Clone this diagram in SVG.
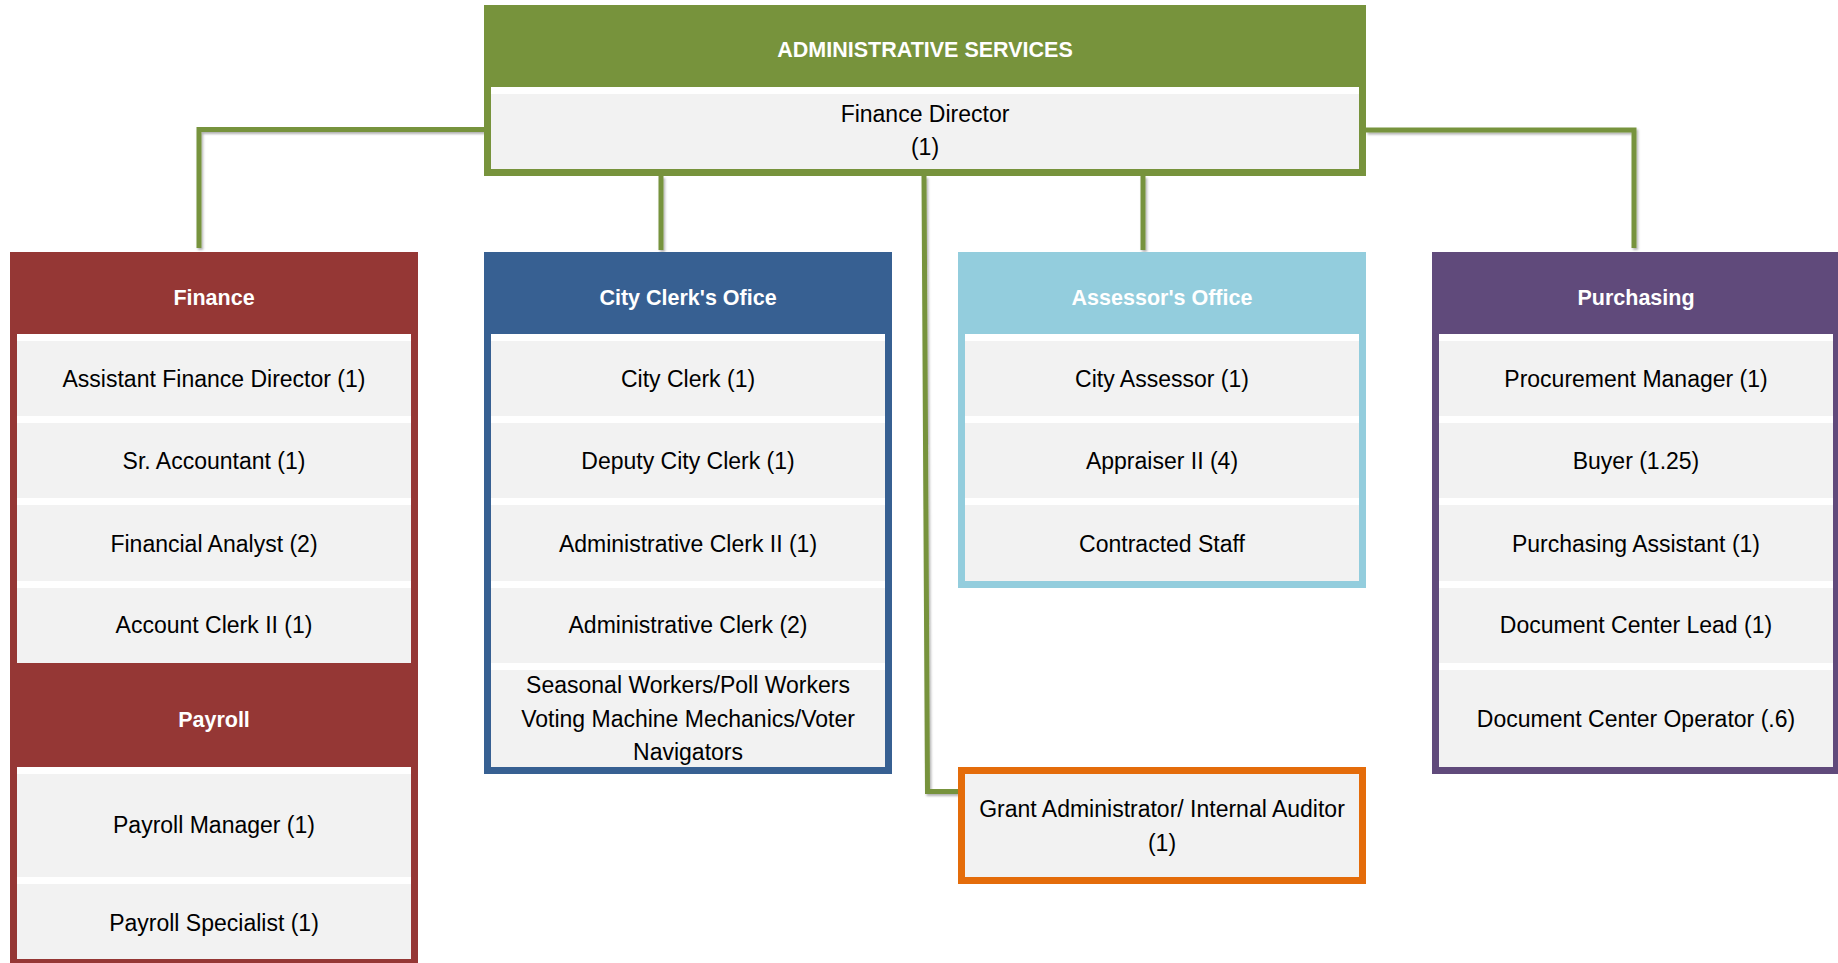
<svg xmlns="http://www.w3.org/2000/svg" width="1838" height="963" viewBox="0 0 1838 963">
<style>
  .row { fill: #F2F2F2; }
  .gap { fill: #FFFFFF; }
  .t { font-family: "Liberation Sans", Arial, sans-serif; font-size: 23px; fill: #000000; text-anchor: middle; }
  .h { font-family: "Liberation Sans", Arial, sans-serif; font-size: 21.5px; font-weight: bold; fill: #FFFFFF; text-anchor: middle; }
  .conn { fill: none; stroke: #77933C; stroke-width: 5; stroke-linejoin: miter; stroke-linecap: butt; filter: url(#sh); }
</style>
<defs>
  <filter id="sh" filterUnits="userSpaceOnUse" x="0" y="0" width="1838" height="963">
    <feDropShadow dx="1.5" dy="2" stdDeviation="1.2" flood-color="#000000" flood-opacity="0.3"/>
  </filter>
</defs>
<rect x="0" y="0" width="1838" height="963" fill="#FFFFFF"/>

<g id="connectors">
  <path class="conn" d="M484,129.5 H199 V248"/>
  <path class="conn" d="M661,176 V250"/>
  <path class="conn" d="M924,176 L927.5,791.5 H958"/>
  <path class="conn" d="M1143,176 V250"/>
  <path class="conn" d="M1366,130 H1634 V248"/>
</g>

<g id="admin-services">
  <rect x="484" y="5" width="882" height="171" fill="#77933C"/>
  <rect class="gap" x="491" y="87" width="868" height="82"/>
  <rect class="row" x="491" y="94" width="868" height="75"/>
  <text class="h" x="925" y="57">ADMINISTRATIVE SERVICES</text>
  <text class="t" x="925" y="122">Finance Director</text>
  <text class="t" x="925" y="155">(1)</text>
</g>

<g id="finance">
  <rect x="10" y="252" width="408" height="720" fill="#953735"/>
  <rect class="gap" x="17" y="334" width="394" height="329"/>
  <rect class="row" x="17" y="341" width="394" height="75"/>
  <rect class="row" x="17" y="423" width="394" height="75"/>
  <rect class="row" x="17" y="505" width="394" height="76"/>
  <rect class="row" x="17" y="588" width="394" height="75"/>
  <rect class="gap" x="17" y="767" width="394" height="192"/>
  <rect class="row" x="17" y="774" width="394" height="103"/>
  <rect class="row" x="17" y="884" width="394" height="75"/>
  <text class="h" x="214" y="305">Finance</text>
  <text class="t" x="214" y="387">Assistant Finance Director (1)</text>
  <text class="t" x="214" y="469">Sr. Accountant (1)</text>
  <text class="t" x="214" y="552">Financial Analyst (2)</text>
  <text class="t" x="214" y="633">Account Clerk II (1)</text>
  <text class="h" x="214" y="727">Payroll</text>
  <text class="t" x="214" y="833">Payroll Manager (1)</text>
  <text class="t" x="214" y="931">Payroll Specialist (1)</text>
</g>

<g id="city-clerk">
  <rect x="484" y="252" width="408" height="522" fill="#376092"/>
  <rect class="gap" x="491" y="334" width="394" height="433"/>
  <rect class="row" x="491" y="341" width="394" height="75"/>
  <rect class="row" x="491" y="423" width="394" height="75"/>
  <rect class="row" x="491" y="505" width="394" height="76"/>
  <rect class="row" x="491" y="588" width="394" height="75"/>
  <rect class="row" x="491" y="670" width="394" height="97"/>
  <text class="h" x="688" y="305">City Clerk's Ofice</text>
  <text class="t" x="688" y="387">City Clerk (1)</text>
  <text class="t" x="688" y="469">Deputy City Clerk (1)</text>
  <text class="t" x="688" y="552">Administrative Clerk II (1)</text>
  <text class="t" x="688" y="633">Administrative Clerk (2)</text>
  <text class="t" x="688" y="693">Seasonal Workers/Poll Workers</text>
  <text class="t" x="688" y="727">Voting Machine Mechanics/Voter</text>
  <text class="t" x="688" y="760">Navigators</text>
</g>

<g id="assessor">
  <rect x="958" y="252" width="408" height="336" fill="#93CDDD"/>
  <rect class="gap" x="965" y="334" width="394" height="247"/>
  <rect class="row" x="965" y="341" width="394" height="75"/>
  <rect class="row" x="965" y="423" width="394" height="75"/>
  <rect class="row" x="965" y="505" width="394" height="76"/>
  <text class="h" x="1162" y="305">Assessor's Office</text>
  <text class="t" x="1162" y="387">City Assessor (1)</text>
  <text class="t" x="1162" y="469">Appraiser II (4)</text>
  <text class="t" x="1162" y="552">Contracted Staff</text>
</g>

<g id="grant-admin">
  <rect x="958" y="767" width="408" height="117" fill="#E46C0A"/>
  <rect class="row" x="965" y="774" width="394" height="103"/>
  <text class="t" x="1162" y="817">Grant Administrator/ Internal Auditor</text>
  <text class="t" x="1162" y="851">(1)</text>
</g>

<g id="purchasing">
  <rect x="1432" y="252" width="408" height="522" fill="#604A7B"/>
  <rect class="gap" x="1439" y="334" width="394" height="433"/>
  <rect class="row" x="1439" y="341" width="394" height="75"/>
  <rect class="row" x="1439" y="423" width="394" height="75"/>
  <rect class="row" x="1439" y="505" width="394" height="76"/>
  <rect class="row" x="1439" y="588" width="394" height="75"/>
  <rect class="row" x="1439" y="670" width="394" height="97"/>
  <text class="h" x="1636" y="305">Purchasing</text>
  <text class="t" x="1636" y="387">Procurement Manager (1)</text>
  <text class="t" x="1636" y="469">Buyer (1.25)</text>
  <text class="t" x="1636" y="552">Purchasing Assistant (1)</text>
  <text class="t" x="1636" y="633">Document Center Lead (1)</text>
  <text class="t" x="1636" y="727">Document Center Operator (.6)</text>
</g>
</svg>
